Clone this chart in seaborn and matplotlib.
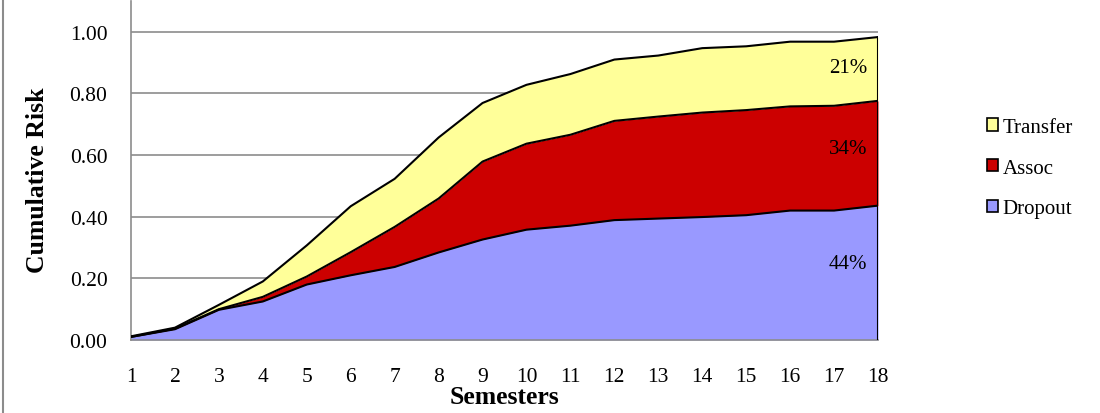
import numpy as np
import pandas as pd
import matplotlib
matplotlib.use("Agg")
import matplotlib.pyplot as plt
from matplotlib.lines import Line2D
from matplotlib.patches import Patch
import seaborn as sns

# ---- data ----
semesters = list(range(1, 19))
dropout = [0.010, 0.035, 0.098, 0.125, 0.180, 0.210, 0.237, 0.284, 0.326,
           0.358, 0.371, 0.389, 0.394, 0.399, 0.405, 0.420, 0.420, 0.436]
assoc = [0.000, 0.002, 0.002, 0.015, 0.026, 0.075, 0.130, 0.175, 0.253,
         0.279, 0.295, 0.322, 0.331, 0.339, 0.341, 0.338, 0.340, 0.340]
transfer = [0.002, 0.003, 0.014, 0.050, 0.101, 0.149, 0.156, 0.198, 0.190,
            0.191, 0.197, 0.199, 0.198, 0.209, 0.207, 0.210, 0.208, 0.207]
series_names = ["Dropout", "Assoc", "Transfer"]
end_labels = ["44%", "34%", "21%"]
y_ticks = [0.0, 0.2, 0.4, 0.6, 0.8, 1.0]

colors = {"Dropout": "#9999FF", "Assoc": "#CC0000", "Transfer": "#FFFF99"}

sns.set_theme(style="white")
plt.rcParams["font.family"] = ["Liberation Serif", "DejaVu Serif"]
plt.rcParams["text.color"] = "black"
plt.rcParams["axes.labelcolor"] = "black"
plt.rcParams["xtick.color"] = "black"
plt.rcParams["ytick.color"] = "black"

fig = plt.figure(figsize=(11, 4.14), dpi=100)
ax = fig.add_axes([131/1100, (414-341)/414, (878-131)/1100, (341-2)/414])

df = pd.DataFrame({"Semester": semesters, "Dropout": dropout,
                   "Assoc": assoc, "Transfer": transfer})
cum = df[series_names].cumsum(axis=1)

# gridlines
for yt in y_ticks[1:]:
    ax.axhline(yt, color="#8C8C8C", lw=1.2, zorder=0)

lower = np.zeros(len(semesters))
for name in series_names:
    upper = cum[name].values
    ax.fill_between(df["Semester"], lower, upper, color=colors[name],
                    lw=0, zorder=2)
    lower = upper

for name in series_names:
    sns.lineplot(x=df["Semester"], y=cum[name], ax=ax, color="black",
                 lw=1.5, zorder=3, legend=False)
# right edge of area
ax.plot([semesters[-1], semesters[-1]], [0, cum["Transfer"].iloc[-1]],
        color="black", lw=1.5, zorder=3)

# end labels
label_y = [0.247, 0.62, 0.883]
for txt, yy in zip(end_labels, label_y):
    ax.text(17.32, yy, txt, ha="center", va="center", fontsize=15,
            color="black", zorder=4)

ax.set_xlim(1, 18)
ax.set_ylim(0, 1.1)
ax.set_xticks(semesters)
ax.set_xticklabels([str(s) for s in semesters], fontsize=15.5)
ax.set_yticks(y_ticks)
ax.set_yticklabels([f"{v:.2f}" for v in y_ticks], fontsize=15.5)
ax.tick_params(axis="both", which="both", direction="out", length=5,
               width=1.2, color="#8C8C8C", labelcolor="black")
ax.tick_params(axis="y", pad=12)
ax.tick_params(axis="x", pad=14.5)
for side in ["top", "right"]:
    ax.spines[side].set_visible(False)
for side in ["left", "bottom"]:
    ax.spines[side].set_color("#8C8C8C")
    ax.spines[side].set_linewidth(1.2)
ax.set_xlabel("Semesters", fontsize=18.5, fontweight="bold", color="black",
              va="top")
ax.xaxis.set_label_coords(0.5, -(386 - 341) / 339)
ax.set_ylabel("Cumulative Risk", fontsize=18.5, fontweight="bold",
              color="black", va="center")
ax.yaxis.set_label_coords((38 - 131) / 747, (341 - 180) / 339)

handles = [Patch(facecolor=colors[n], edgecolor="black", lw=1.2)
           for n in ["Transfer", "Assoc", "Dropout"]]
leg = fig.legend(handles, ["Transfer", "Assoc", "Dropout"],
                 loc="center left", bbox_to_anchor=(968/1100, 1 - 169/414),
                 frameon=False, fontsize=15, handlelength=0.55,
                 handleheight=0.55, handletextpad=0.2, labelspacing=1.05)

fig.add_artist(Line2D([3/1100, 3/1100], [0, 1], color="#8C8C8C", lw=1.5,
                      transform=fig.transFigure))

fig.savefig("out.png", dpi=100)
